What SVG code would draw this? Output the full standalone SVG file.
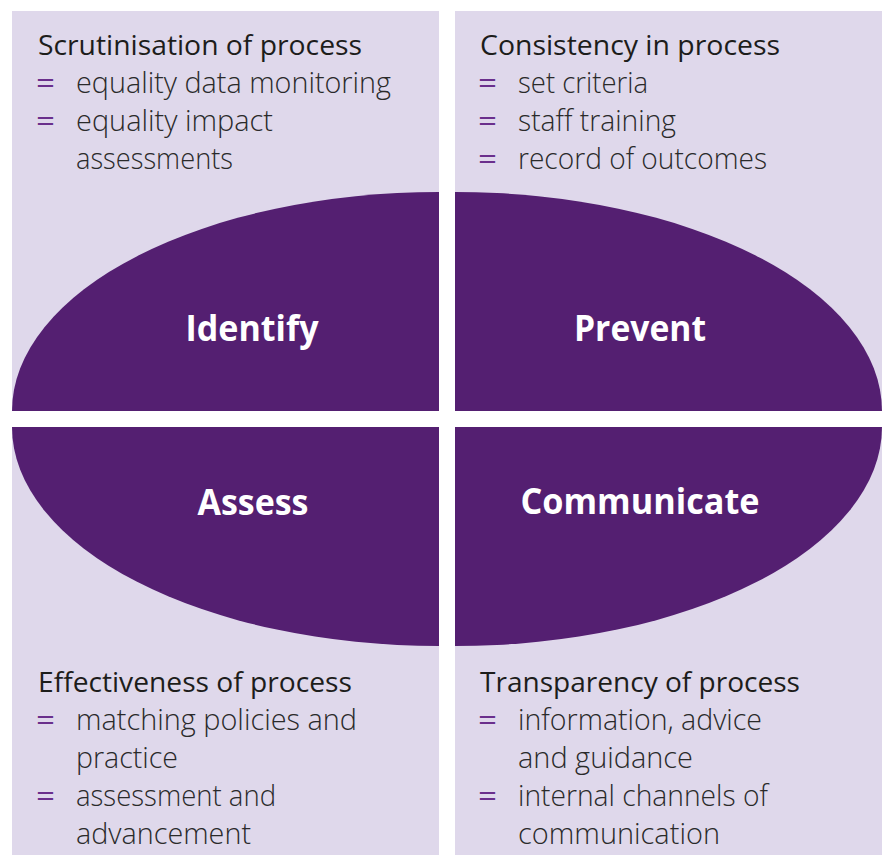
<svg xmlns="http://www.w3.org/2000/svg" width="884" height="855" viewBox="0 0 884 855">
  <style>
    .panel { fill: #dfd8eb; }
    .lobe { fill: #541f71; }
    .head { font-family: "Open Sans", "Noto Sans", "Liberation Sans", sans-serif; font-size: 28px; fill: #1d1d1b; }
    .item { font-family: "Open Sans", "Noto Sans", "Liberation Sans", sans-serif; font-size: 30px; font-weight: 300; fill: #2a2a2a; }
    .bullet { font-family: "Open Sans", "Noto Sans", "Liberation Sans", sans-serif; font-size: 30px; fill: #6a2f8c; }
    .label { font-family: "Open Sans", "Noto Sans", "Liberation Sans", sans-serif; font-size: 36px; font-weight: 700; fill: #ffffff; text-anchor: middle; }
  </style>
  <rect width="884" height="855" fill="#ffffff"/>

  <!-- Identify quadrant -->
  <g id="identify">
    <rect class="panel" x="12" y="11" width="427" height="400"/>
    <path class="lobe" d="M439,411 L12,411 A427,219 0 0 1 439,192 Z"/>
    <text class="head" x="38" y="55" textLength="324" lengthAdjust="spacingAndGlyphs">Scrutinisation of process</text>
    <text class="bullet" x="36" y="93" textLength="19" lengthAdjust="spacingAndGlyphs">=</text>
    <text class="item" x="76" y="93" textLength="315" lengthAdjust="spacingAndGlyphs">equality data monitoring</text>
    <text class="bullet" x="36" y="131" textLength="19" lengthAdjust="spacingAndGlyphs">=</text>
    <text class="item" x="76" y="131" textLength="197" lengthAdjust="spacingAndGlyphs">equality impact</text>
    <text class="item" x="76" y="169" textLength="157" lengthAdjust="spacingAndGlyphs">assessments</text>
    <text class="label" x="252" y="341" textLength="133" lengthAdjust="spacingAndGlyphs">Identify</text>
  </g>

  <!-- Prevent quadrant -->
  <g id="prevent">
    <rect class="panel" x="455" y="11" width="427" height="400"/>
    <path class="lobe" d="M455,411 L455,192 A427,219 0 0 1 882,411 Z"/>
    <text class="head" x="480" y="55" textLength="300" lengthAdjust="spacingAndGlyphs">Consistency in process</text>
    <text class="bullet" x="478" y="93" textLength="19" lengthAdjust="spacingAndGlyphs">=</text>
    <text class="item" x="518" y="93" textLength="130" lengthAdjust="spacingAndGlyphs">set criteria</text>
    <text class="bullet" x="478" y="131" textLength="19" lengthAdjust="spacingAndGlyphs">=</text>
    <text class="item" x="518" y="131" textLength="158" lengthAdjust="spacingAndGlyphs">staff training</text>
    <text class="bullet" x="478" y="169" textLength="19" lengthAdjust="spacingAndGlyphs">=</text>
    <text class="item" x="518" y="169" textLength="249" lengthAdjust="spacingAndGlyphs">record of outcomes</text>
    <text class="label" x="640" y="341" textLength="132" lengthAdjust="spacingAndGlyphs">Prevent</text>
  </g>

  <!-- Assess quadrant -->
  <g id="assess">
    <rect class="panel" x="12" y="427" width="427" height="428"/>
    <path class="lobe" d="M439,427 L12,427 A427,219 0 0 0 439,646 Z"/>
    <text class="label" x="253" y="515" textLength="111" lengthAdjust="spacingAndGlyphs">Assess</text>
    <text class="head" x="38" y="692" textLength="314" lengthAdjust="spacingAndGlyphs">Effectiveness of process</text>
    <text class="bullet" x="36" y="730" textLength="19" lengthAdjust="spacingAndGlyphs">=</text>
    <text class="item" x="76" y="730" textLength="281" lengthAdjust="spacingAndGlyphs">matching policies and</text>
    <text class="item" x="76" y="768" textLength="102" lengthAdjust="spacingAndGlyphs">practice</text>
    <text class="bullet" x="36" y="806" textLength="19" lengthAdjust="spacingAndGlyphs">=</text>
    <text class="item" x="76" y="806" textLength="200" lengthAdjust="spacingAndGlyphs">assessment and</text>
    <text class="item" x="76" y="844" textLength="175" lengthAdjust="spacingAndGlyphs">advancement</text>
  </g>

  <!-- Communicate quadrant -->
  <g id="communicate">
    <rect class="panel" x="455" y="427" width="427" height="428"/>
    <path class="lobe" d="M455,427 L882,427 A427,219 0 0 1 455,646 Z"/>
    <text class="label" x="640" y="514" textLength="239" lengthAdjust="spacingAndGlyphs">Communicate</text>
    <text class="head" x="480" y="692" textLength="320" lengthAdjust="spacingAndGlyphs">Transparency of process</text>
    <text class="bullet" x="478" y="730" textLength="19" lengthAdjust="spacingAndGlyphs">=</text>
    <text class="item" x="518" y="730" textLength="244" lengthAdjust="spacingAndGlyphs">information, advice</text>
    <text class="item" x="518" y="768" textLength="175" lengthAdjust="spacingAndGlyphs">and guidance</text>
    <text class="bullet" x="478" y="806" textLength="19" lengthAdjust="spacingAndGlyphs">=</text>
    <text class="item" x="518" y="806" textLength="250" lengthAdjust="spacingAndGlyphs">internal channels of</text>
    <text class="item" x="518" y="844" textLength="202" lengthAdjust="spacingAndGlyphs">communication</text>
  </g>
</svg>
